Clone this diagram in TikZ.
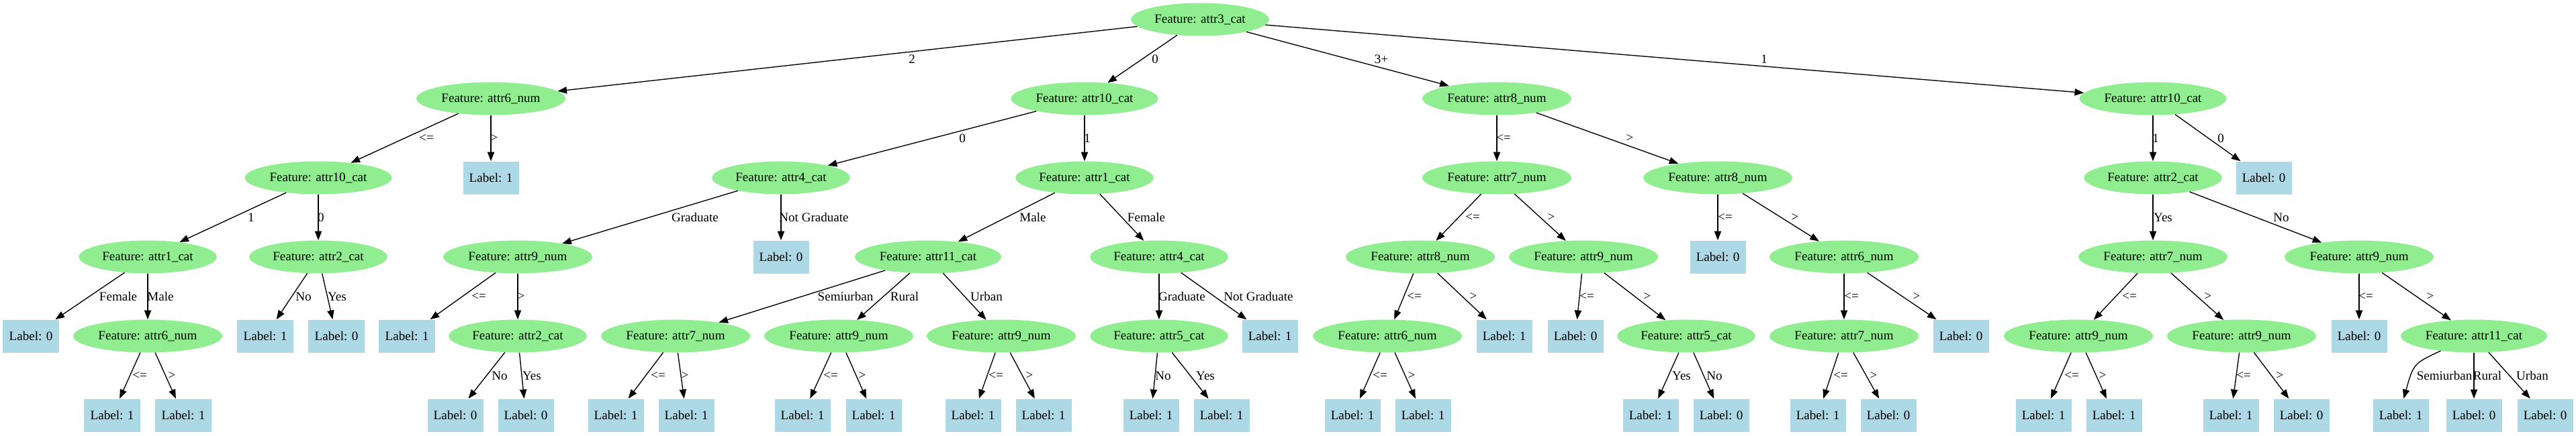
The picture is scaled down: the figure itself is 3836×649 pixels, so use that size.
\documentclass[tikz,border=0pt]{standalone}
\usepackage{fontspec}
\setmainfont{Liberation Serif}
\usetikzlibrary{shapes.geometric, arrows.meta}
\definecolor{featgreen}{RGB}{144,238,144}
\definecolor{leafblue}{RGB}{173,216,230}

\begin{document}
\begin{tikzpicture}[
  x=0.7348pt, y=-0.7348pt,
  feat/.style={ellipse, fill=featgreen, minimum height=36pt, inner xsep=3.6pt, inner ysep=2pt,
               font=\fontsize{14}{16}\selectfont},
  leaf/.style={rectangle, fill=leafblue, minimum width=61pt, minimum height=36pt,
               font=\fontsize{14}{16}\selectfont},
  arr/.style={-{Triangle[length=10pt, width=7.5pt]}, line width=1pt},
  lbl/.style={font=\fontsize{14}{16}\selectfont, inner sep=0pt},
]
  \path[use as bounding box, fill=white] (0,0) rectangle (3836,649);

  % root
  \node[feat] (root) at (1787,29) {Feature: attr3\_cat};

  % level 1
  \node[feat] (a) at (731,147)  {Feature: attr6\_num};
  \node[feat] (b) at (1615,147) {Feature: attr10\_cat};
  \node[feat] (c) at (2229,147) {Feature: attr8\_num};
  \node[feat] (d) at (3206,147) {Feature: attr10\_cat};

  % level 2
  \node[feat] (a1) at (474,265)  {Feature: attr10\_cat};
  \node[leaf] (a2) at (731,265)  {Label: 1};
  \node[feat] (b1) at (1163,265) {Feature: attr4\_cat};
  \node[feat] (b2) at (1615,265) {Feature: attr1\_cat};
  \node[feat] (c1) at (2229,265) {Feature: attr7\_num};
  \node[feat] (c2) at (2558,265) {Feature: attr8\_num};
  \node[feat] (d1) at (3206,265) {Feature: attr2\_cat};
  \node[leaf] (d2) at (3371,265) {Label: 0};

  % level 3
  \node[feat] (a11) at (220,383)  {Feature: attr1\_cat};
  \node[feat] (a12) at (474,383)  {Feature: attr2\_cat};
  \node[feat] (b11) at (771,383)  {Feature: attr9\_num};
  \node[leaf] (b12) at (1163,383) {Label: 0};
  \node[feat] (b21) at (1382,383) {Feature: attr11\_cat};
  \node[feat] (b22) at (1726,383) {Feature: attr4\_cat};
  \node[feat] (c11) at (2115,383) {Feature: attr8\_num};
  \node[feat] (c12) at (2358,383) {Feature: attr9\_num};
  \node[leaf] (c21) at (2558,383) {Label: 0};
  \node[feat] (c22) at (2746,383) {Feature: attr6\_num};
  \node[feat] (d11) at (3206,383) {Feature: attr7\_num};
  \node[feat] (d12) at (3513,383) {Feature: attr9\_num};

  % level 4
  \node[leaf] (a111) at (46,501)   {Label: 0};
  \node[feat] (a112) at (220,501)  {Feature: attr6\_num};
  \node[leaf] (a121) at (395,501)  {Label: 1};
  \node[leaf] (a122) at (501,501)  {Label: 0};
  \node[leaf] (b111) at (606,501)  {Label: 1};
  \node[feat] (b112) at (771,501)  {Feature: attr2\_cat};
  \node[feat] (b211) at (1006,501) {Feature: attr7\_num};
  \node[feat] (b212) at (1249,501) {Feature: attr9\_num};
  \node[feat] (b213) at (1491,501) {Feature: attr9\_num};
  \node[feat] (b221) at (1726,501) {Feature: attr5\_cat};
  \node[leaf] (b222) at (1891,501) {Label: 1};
  \node[feat] (c111) at (2066,501) {Feature: attr6\_num};
  \node[leaf] (c112) at (2240,501) {Label: 1};
  \node[leaf] (c121) at (2346,501) {Label: 0};
  \node[feat] (c122) at (2511,501) {Feature: attr5\_cat};
  \node[feat] (c221) at (2746,501) {Feature: attr7\_num};
  \node[leaf] (c222) at (2920,501) {Label: 0};
  \node[feat] (d111) at (3095,501) {Feature: attr9\_num};
  \node[feat] (d112) at (3338,501) {Feature: attr9\_num};
  \node[leaf] (d121) at (3513,501) {Label: 0};
  \node[feat] (d122) at (3684,501) {Feature: attr11\_cat};

  % level 5
  \node[leaf] (a1121) at (167,619)  {Label: 1};
  \node[leaf] (a1122) at (273,619)  {Label: 1};
  \node[leaf] (b1121) at (678,619)  {Label: 0};
  \node[leaf] (b1122) at (783,619)  {Label: 0};
  \node[leaf] (b2111) at (917,619)  {Label: 1};
  \node[leaf] (b2112) at (1022,619) {Label: 1};
  \node[leaf] (b2121) at (1195,619) {Label: 1};
  \node[leaf] (b2122) at (1301,619) {Label: 1};
  \node[leaf] (b2131) at (1449,619) {Label: 1};
  \node[leaf] (b2132) at (1554,619) {Label: 1};
  \node[leaf] (b2211) at (1714,619) {Label: 1};
  \node[leaf] (b2212) at (1819,619) {Label: 1};
  \node[leaf] (c1111) at (2014,619) {Label: 1};
  \node[leaf] (c1112) at (2119,619) {Label: 1};
  \node[leaf] (c1221) at (2458,619) {Label: 1};
  \node[leaf] (c1222) at (2563,619) {Label: 0};
  \node[leaf] (c2211) at (2707,619) {Label: 1};
  \node[leaf] (c2212) at (2812,619) {Label: 0};
  \node[leaf] (d1111) at (3043,619) {Label: 1};
  \node[leaf] (d1112) at (3148,619) {Label: 1};
  \node[leaf] (d1121) at (3322,619) {Label: 1};
  \node[leaf] (d1122) at (3427,619) {Label: 0};
  \node[leaf] (d1221) at (3575,619) {Label: 1};
  \node[leaf] (d1222) at (3684,619) {Label: 0};
  \node[leaf] (d1223) at (3790,619) {Label: 0};

  % edges from the root
  \draw[arr] (root) -- (a);  \node[lbl] (ea) at (1358,88) {2};
  \draw[arr] (root) -- (b);  \node[lbl] (eb) at (1720,88) {0};
  \draw[arr] (root) -- (c);  \node[lbl] (ec) at (2057,88) {3+};
  \draw[arr] (root) -- (d);  \node[lbl] (ed) at (2627,88) {1};

  % level 1 -> level 2
  \draw[arr] (a) -- (a1);  \node[lbl] (ea1) at (635,206)  {<=};
  \draw[arr] (a) -- (a2);  \node[lbl] (ea2) at (736,206)  {>};
  \draw[arr] (b) -- (b1);  \node[lbl] (eb1) at (1433,206) {0};
  \draw[arr] (b) -- (b2);  \node[lbl] (eb2) at (1619,206) {1};
  \draw[arr] (c) -- (c1);  \node[lbl] (ec1) at (2239,206) {<=};
  \draw[arr] (c) -- (c2);  \node[lbl] (ec2) at (2427,206) {>};
  \draw[arr] (d) -- (d1);  \node[lbl] (ed1) at (3210,206) {1};
  \draw[arr] (d) -- (d2);  \node[lbl] (ed2) at (3307,206) {0};

  % level 2 -> level 3
  \draw[arr] (a1) -- (a11);  \node[lbl] (ea11) at (374,324)  {1};
  \draw[arr] (a1) -- (a12);  \node[lbl] (ea12) at (478,324)  {0};
  \draw[arr] (b1) -- (b11);  \node[lbl] (eb11) at (1035,324) {Graduate};
  \draw[arr] (b1) -- (b12);  \node[lbl] (eb12) at (1212,324) {Not Graduate};
  \draw[arr] (b2) -- (b21);  \node[lbl] (eb21) at (1538,324) {Male};
  \draw[arr] (b2) -- (b22);  \node[lbl] (eb22) at (1707,324) {Female};
  \draw[arr] (c1) -- (c11);  \node[lbl] (ec11) at (2193,324) {<=};
  \draw[arr] (c1) -- (c12);  \node[lbl] (ec12) at (2310,324) {>};
  \draw[arr] (c2) -- (c21);  \node[lbl] (ec21) at (2569,324) {<=};
  \draw[arr] (c2) -- (c22);  \node[lbl] (ec22) at (2673,324) {>};
  \draw[arr] (d1) -- (d11);  \node[lbl] (ed11) at (3221,324) {Yes};
  \draw[arr] (d1) -- (d12);  \node[lbl] (ed12) at (3397,324) {No};

  % level 3 -> level 4
  \draw[arr] (a11) -- (a111);  \node[lbl] (ea111) at (176,442)  {Female};
  \draw[arr] (a11) -- (a112);  \node[lbl] (ea112) at (239,442)  {Male};
  \draw[arr] (a12) -- (a121);  \node[lbl] (ea121) at (452,442)  {No};
  \draw[arr] (a12) -- (a122);  \node[lbl] (ea122) at (502,442)  {Yes};
  \draw[arr] (b11) -- (b111);  \node[lbl] (eb111) at (713,442)  {<=};
  \draw[arr] (b11) -- (b112);  \node[lbl] (eb112) at (776,442)  {>};
  \draw[arr] (b21) -- (b211);  \node[lbl] (eb211) at (1259,442) {Semiurban};
  \draw[arr] (b21) -- (b212);  \node[lbl] (eb212) at (1347,442) {Rural};
  \draw[arr] (b21) -- (b213);  \node[lbl] (eb213) at (1469,442) {Urban};
  \draw[arr] (b22) -- (b221);  \node[lbl] (eb221) at (1760,442) {Graduate};
  \draw[arr] (b22) -- (b222);  \node[lbl] (eb222) at (1874,442) {Not Graduate};
  \draw[arr] (c11) -- (c111);  \node[lbl] (ec111) at (2106,442) {<=};
  \draw[arr] (c11) -- (c112);  \node[lbl] (ec112) at (2194,442) {>};
  \draw[arr] (c12) -- (c121);  \node[lbl] (ec121) at (2363,442) {<=};
  \draw[arr] (c12) -- (c122);  \node[lbl] (ec122) at (2453,442) {>};
  \draw[arr] (c22) -- (c221);  \node[lbl] (ec221) at (2757,442) {<=};
  \draw[arr] (c22) -- (c222);  \node[lbl] (ec222) at (2854,442) {>};
  \draw[arr] (d11) -- (d111);  \node[lbl] (ed111) at (3171,442) {<=};
  \draw[arr] (d11) -- (d112);  \node[lbl] (ed112) at (3288,442) {>};
  \draw[arr] (d12) -- (d121);  \node[lbl] (ed121) at (3523,442) {<=};
  \draw[arr] (d12) -- (d122);  \node[lbl] (ed122) at (3619,442) {>};

  % level 4 -> level 5
  \draw[arr] (a112) -- (a1121);  \node[lbl] (ea1121) at (208,560)  {<=};
  \draw[arr] (a112) -- (a1122);  \node[lbl] (ea1122) at (256,560)  {>};
  \draw[arr] (b112) -- (b1121);  \node[lbl] (eb1121) at (744,560)  {No};
  \draw[arr] (b112) -- (b1122);  \node[lbl] (eb1122) at (792,560)  {Yes};
  \draw[arr] (b211) -- (b2111);  \node[lbl] (eb2111) at (980,560)  {<=};
  \draw[arr] (b211) -- (b2112);  \node[lbl] (eb2112) at (1020,560) {>};
  \draw[arr] (b212) -- (b2121);  \node[lbl] (eb2121) at (1237,560) {<=};
  \draw[arr] (b212) -- (b2122);  \node[lbl] (eb2122) at (1284,560) {>};
  \draw[arr] (b213) -- (b2131);  \node[lbl] (eb2131) at (1483,560) {<=};
  \draw[arr] (b213) -- (b2132);  \node[lbl] (eb2132) at (1533,560) {>};
  \draw[arr] (b221) -- (b2211);  \node[lbl] (eb2211) at (1732,560) {No};
  \draw[arr] (b221) -- (b2212);  \node[lbl] (eb2212) at (1795,560) {Yes};
  \draw[arr] (c111) -- (c1111);  \node[lbl] (ec1111) at (2055,560) {<=};
  \draw[arr] (c111) -- (c1112);  \node[lbl] (ec1112) at (2102,560) {>};
  \draw[arr] (c122) -- (c1221);  \node[lbl] (ec1221) at (2504,560) {Yes};
  \draw[arr] (c122) -- (c1222);  \node[lbl] (ec1222) at (2553,560) {No};
  \draw[arr] (c221) -- (c2211);  \node[lbl] (ec2211) at (2741,560) {<=};
  \draw[arr] (c221) -- (c2212);  \node[lbl] (ec2212) at (2790,560) {>};
  \draw[arr] (d111) -- (d1111);  \node[lbl] (ed1111) at (3085,560) {<=};
  \draw[arr] (d111) -- (d1112);  \node[lbl] (ed1112) at (3131,560) {>};
  \draw[arr] (d112) -- (d1121);  \node[lbl] (ed1121) at (3341,560) {<=};
  \draw[arr] (d112) -- (d1122);  \node[lbl] (ed1122) at (3395,560) {>};
  \draw[arr] (d122.204) .. controls (3594,542) .. (d1221.80);
    \node[lbl] (ed1221) at (3640,560) {Semiurban};
  \draw[arr] (d122) -- (d1222);  \node[lbl] (ed1222) at (3704,560) {Rural};
  \draw[arr] (d122) -- (d1223);  \node[lbl] (ed1223) at (3771,560) {Urban};
\end{tikzpicture}
\end{document}
